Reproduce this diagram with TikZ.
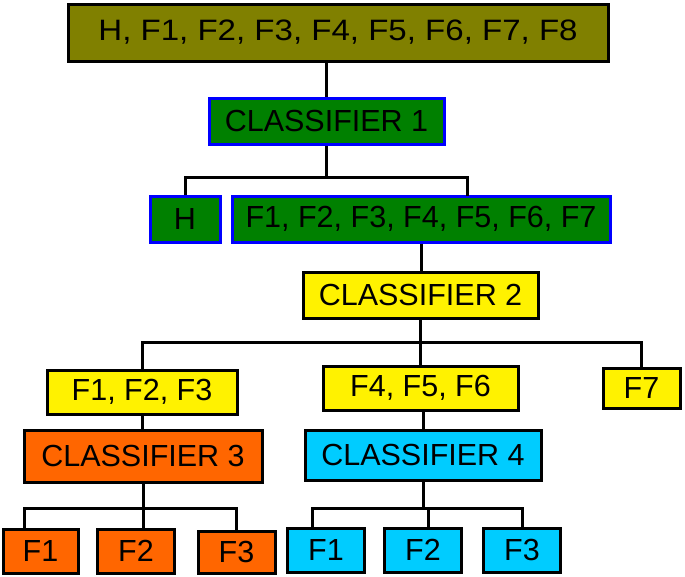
\documentclass[tikz,border=0pt]{standalone}
\usepackage{fontspec}
\setmainfont{Liberation Sans}
\newfontfamily\widesans[FakeStretch=1.12]{Liberation Sans}
\definecolor{oliveboxc}{HTML}{808000}
\definecolor{greenboxc}{HTML}{008000}
\definecolor{orangeboxc}{HTML}{FF6600}
\definecolor{cyanboxc}{HTML}{00CCFF}

\begin{document}
\begin{tikzpicture}[x=1pt,y=-1pt,
		box/.style={draw,line width=3pt,inner sep=0pt,font=\fontsize{30.5}{30.5}\selectfont},
		rootbox/.style={box,fill=oliveboxc,font=\widesans\fontsize{29.5}{29.5}\selectfont},
		greenbox/.style={box,fill=greenboxc,draw=blue},
		yellowbox/.style={box,fill=yellow},
		orangebox/.style={box,fill=orangeboxc},
		cyanbox/.style={box,fill=cyanboxc},
		link/.style={line width=3pt}]
	\useasboundingbox (0,0) rectangle (685,576);
	% level 0 and 1
	\node[rootbox,minimum width=540pt,minimum height=57pt] (all) at (338,32.5) {H, F1, F2, F3, F4, F5, F6, F7, F8};
	\node[greenbox,minimum width=235pt,minimum height=46pt] (cls1) at (326.5,121) {CLASSIFIER 1};
	\node[greenbox,minimum width=70pt,minimum height=46pt] (h) at (185,219) {H};
	\node[greenbox,minimum width=378pt,minimum height=46pt] (rest) at (421,219) {F1, F2, F3, F4, F5, F6, F7};
	% level 2
	\node[yellowbox,minimum width=235pt,minimum height=46pt] (cls2) at (420.5,295) {CLASSIFIER 2};
	\node[yellowbox,minimum width=190pt,minimum height=44pt] (fa) at (142,392) {F1, F2, F3};
	\node[yellowbox,minimum width=195pt,minimum height=44pt] (fb) at (420.5,388) {F4, F5, F6};
	\node[yellowbox,minimum width=77pt,minimum height=40pt] (fc) at (641.5,388) {F7};
	% level 3
	\node[orangebox,minimum width=238pt,minimum height=52pt] (cls3) at (143,456) {CLASSIFIER 3};
	\node[cyanbox,minimum width=236pt,minimum height=50pt] (cls4) at (423,455) {CLASSIFIER 4};
	\node[orangebox,minimum width=75pt,minimum height=44pt] (la) at (40.5,551) {F1};
	\node[orangebox,minimum width=77pt,minimum height=44pt] (lb) at (136,551) {F2};
	\node[orangebox,minimum width=77pt,minimum height=42pt] (lc) at (236.5,552) {F3};
	\node[cyanbox,minimum width=77pt,minimum height=44pt] (ra) at (326,550) {F1};
	\node[cyanbox,minimum width=77pt,minimum height=44pt] (rb) at (423,550) {F2};
	\node[cyanbox,minimum width=77pt,minimum height=44pt] (rc) at (522,550) {F3};
	% drop points and bar levels
	\coordinate (bar1) at (0,177);
	\coordinate (bar2) at (0,342);
	\coordinate (bar3) at (0,508);
	\coordinate (drest) at (467,196);
	\coordinate (dla) at (24,528);
	\coordinate (dlb) at (143,528);
	\coordinate (dra) at (312,528);
	\coordinate (drb) at (428,528);
	% connectors
	\draw[link] (cls1.north) -- (cls1.north |- all.south);
	\draw[link] (cls1.south) -- (cls1.south |- bar1);
	\draw[link] (h.north) |- (drest |- bar1) -- (drest);
	\draw[link] (rest.south) -- (rest.south |- cls2.north);
	\draw[link] (cls2.south) -- (cls2.south |- fb.north);
	\draw[link] (fa.north) |- (fc.north |- bar2) -- (fc.north);
	\draw[link] (fa.south) -- (fa.south |- cls3.north);
	\draw[link] (cls4.north) -- (cls4.north |- fb.south);
	\draw[link] (cls3.south) -- (cls3.south |- bar3);
	\draw[link] (dla) |- (lc.north |- bar3) -- (lc.north);
	\draw[link] (dlb) -- (dlb |- bar3);
	\draw[link] (cls4.south) -- (cls4.south |- bar3);
	\draw[link] (dra) |- (rc.north |- bar3) -- (rc.north);
	\draw[link] (drb) -- (drb |- bar3);
\end{tikzpicture}
\end{document}
